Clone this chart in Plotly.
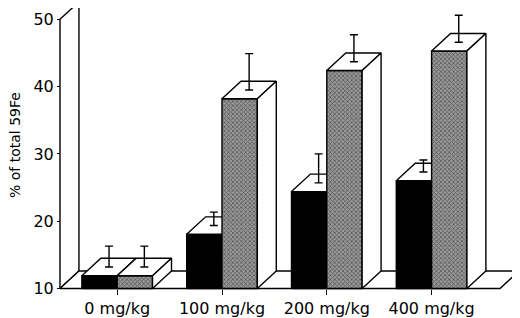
import plotly.graph_objects as go

# ---- data ----
categories = ["0 mg/kg", "100 mg/kg", "200 mg/kg", "400 mg/kg"]
black_vals = [11.9, 18.05, 24.4, 26.0]
black_err = [3.1, 2.0, 4.3, 1.8]
gray_vals = [11.9, 38.2, 42.4, 45.3]
gray_err = [3.1, 5.4, 4.0, 4.0]
y_ticks = [10, 20, 30, 40, 50]
y_title = "% of total 59Fe"

# ---- 3D style geometry (in axis units) ----
BASE = 10
BAR_W = 0.337
DX = 0.181
DY = 2.6
WALL_X = -0.546
WALL_TOP = 50
FLOOR_END = 3.653
LW = 1.4
GRAY = "#6e6e6e"

fig = go.Figure()


def poly(xs, ys, fill="white", pattern=None):
    kw = dict(
        x=list(xs) + [xs[0]], y=list(ys) + [ys[0]], mode="lines",
        fill="toself", fillcolor=fill,
        line=dict(color="black", width=LW),
        hoverinfo="skip", showlegend=False,
    )
    if pattern is not None:
        kw["fillpattern"] = pattern
    fig.add_trace(go.Scatter(**kw))


# left wall
poly([WALL_X, WALL_X, WALL_X + DX, WALL_X + DX],
     [BASE, WALL_TOP, WALL_TOP + DY, BASE + DY])
# floor
poly([WALL_X, FLOOR_END, FLOOR_END + DX, WALL_X + DX],
     [BASE, BASE, BASE + DY, BASE + DY])


def box(x0, x1, top, fill, pattern=None):
    poly([x0, x1, x1, x0], [BASE, BASE, top, top], fill=fill, pattern=pattern)
    poly([x0, x1, x1 + DX, x0 + DX], [top, top, top + DY, top + DY])
    poly([x1, x1 + DX, x1 + DX, x1], [BASE, BASE + DY, top + DY, top])


pat = dict(shape="x", fgcolor="#111111", bgcolor="#9a9a9a", size=3, solidity=0.45)
for i in range(len(categories)):
    box(i - BAR_W, i, black_vals[i], "black")
    box(i, i + BAR_W, gray_vals[i], GRAY, pattern=pat)

# error bars (upward only, from the middle of each top face)
ex, ey, ee = [], [], []
for i in range(len(categories)):
    ex += [i - BAR_W / 2 + DX / 2, i + BAR_W / 2 + DX / 2]
    ey += [black_vals[i] + DY / 2, gray_vals[i] + DY / 2]
    ee += [black_err[i], gray_err[i]]
fig.add_trace(go.Scatter(
    x=ex, y=ey, mode="markers", marker=dict(size=0.1, color="black"),
    error_y=dict(type="data", array=ee, arrayminus=[0] * len(ee),
                 symmetric=False, color="black", thickness=1.4, width=4),
    hoverinfo="skip", showlegend=False,
))

# page body has an 8px margin, so the figure is sized to fit the window
W, H = 512, 310
PX_PER_X = 104.8
X_CENTER0 = 109.2
PX_PER_Y = 6.73
Y_BASE_PX = 280.5
x_range = [-X_CENTER0 / PX_PER_X, (W - X_CENTER0) / PX_PER_X]
y_range = [BASE - (H - Y_BASE_PX) / PX_PER_Y, BASE + Y_BASE_PX / PX_PER_Y]

font = dict(family="DejaVu Sans", size=16, color="black")
fig.update_layout(
    width=W, height=H,
    margin=dict(l=0, r=0, t=0, b=0),
    paper_bgcolor="white", plot_bgcolor="white",
    showlegend=False,
    xaxis=dict(
        range=x_range, anchor="free", position=(H - Y_BASE_PX) / H,
        showline=False, showgrid=False, zeroline=False,
        tickvals=list(range(len(categories))), ticktext=categories,
        ticks="outside", ticklen=5, tickwidth=1.2, tickcolor="black",
        tickfont=font, automargin=False,
    ),
    yaxis=dict(
        range=y_range, anchor="free", position=52 / W,
        showline=False, showgrid=False, zeroline=False,
        tickvals=y_ticks, ticks="outside", ticklen=3, tickwidth=1.2,
        tickcolor="black", tickfont=font, automargin=False,
    ),
    annotations=[dict(
        text=y_title, textangle=-90, xref="paper", yref="paper",
        x=7 / W, y=1 - 137 / H, xanchor="center", yanchor="middle",
        showarrow=False,
        font=dict(family="DejaVu Sans", size=14, color="black"),
    )],
)

fig.write_html("out.html")
